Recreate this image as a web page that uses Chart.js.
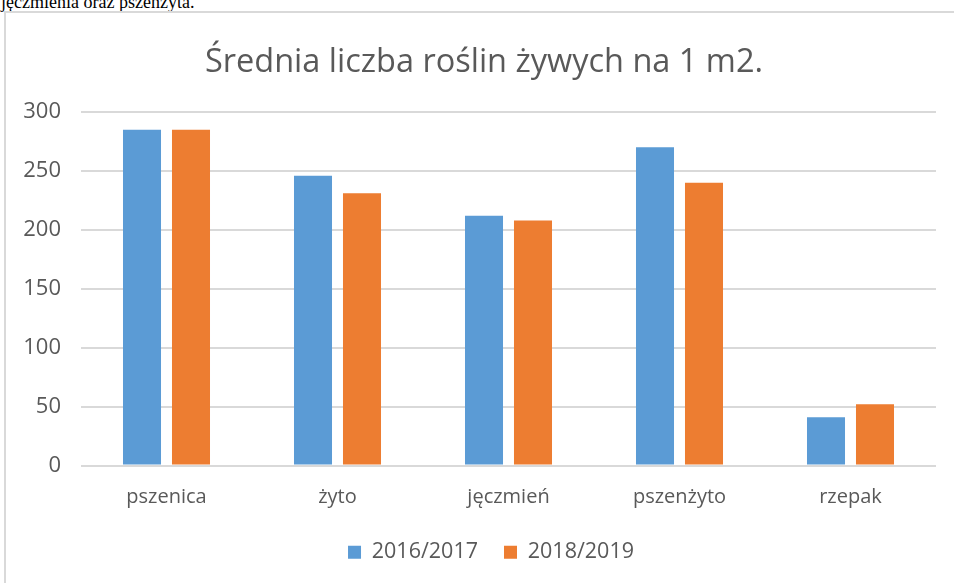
<!DOCTYPE html>
<html>
<head>
<meta charset="utf-8">
<script src="https://cdn.jsdelivr.net/npm/chart.js@4"></script>
<style>
  html, body { margin: 0; padding: 0; background: #fff; width: 954px; height: 583px; overflow: hidden; }
  #doc { position: absolute; left: 1px; top: -8px; font-family: "Liberation Serif", serif; font-size: 18px; color: #000; white-space: nowrap; }
  #frame { position: absolute; left: 4px; top: 11px; width: 950px; height: 572px; border-left: 2px solid #d9d9d9; border-top: 2px solid #d9d9d9; background: #fff; }
  #wrap { position: absolute; left: 0; top: 0; width: 948px; height: 570px; }
</style>
</head>
<body>
<div id="doc">jęczmienia oraz pszenżyta.</div>
<div id="frame"><div id="wrap"><canvas id="c"></canvas></div></div>
<script>
const categories = ["pszenica", "żyto", "jęczmień", "pszenżyto", "rzepak"];
const seriesNames = ["2016/2017", "2018/2019"];
const values2016 = [285, 246, 212, 270, 41];
const values2018 = [285, 231, 208, 240, 52];
const yTicks = [0, 50, 100, 150, 200, 250, 300];
const titleText = "Średnia liczba roślin żywych na 1 m2.";

const textColor = "#595959";
const fontFamily = "'Open Sans', 'Noto Sans', sans-serif";

// shift title and legend horizontally to match the reference's centring
const shiftBlocks = {
  id: "shiftBlocks",
  afterLayout(chart) {
    if (chart.titleBlock) { chart.titleBlock.left += 13; chart.titleBlock.right += 13; }
    if (chart.legend) { chart.legend.left += 20; chart.legend.right += 20; }
  }
};

new Chart(document.getElementById("c"), {
  type: "bar",
  data: {
    labels: categories,
    datasets: [
      { label: seriesNames[0], data: values2016, backgroundColor: "#5b9bd5", borderColor: "#5b9bd5", borderWidth: 0 },
      { label: seriesNames[1], data: values2018, backgroundColor: "#ed7d31", borderColor: "#ed7d31", borderWidth: 0 }
    ]
  },
  plugins: [shiftBlocks],
  options: {
    responsive: true,
    maintainAspectRatio: false,
    animation: false,
    datasets: { bar: { categoryPercentage: 0.573, barPercentage: 0.776 } },
    layout: { padding: { left: 0, right: 18, top: 30, bottom: 10 } },
    plugins: {
      title: {
        display: true,
        text: titleText,
        color: textColor,
        font: { family: fontFamily, size: 32.5, weight: "normal" },
        padding: { top: 0, bottom: 30 }
      },
      legend: {
        position: "bottom",
        labels: {
          color: textColor,
          font: { family: fontFamily, size: 21.5 },
          boxWidth: 13,
          boxHeight: 13,
          padding: 26
        }
      },
      tooltip: { enabled: false }
    },
    scales: {
      x: {
        grid: { display: false, drawTicks: false },
        border: { display: false },
        afterFit: (s) => { s.height = 50; },
        ticks: { color: textColor, font: { family: fontFamily, size: 20 }, padding: 20 }
      },
      y: {
        min: 0,
        max: 300,
        afterBuildTicks: (s) => { s.ticks = yTicks.map(v => ({ value: v })); },
        afterFit: (s) => { s.width = 75; },
        grid: { color: "#d9d9d9", lineWidth: 2, drawTicks: false },
        border: { display: false },
        ticks: { color: textColor, font: { family: fontFamily, size: 22 }, padding: 20 }
      }
    }
  }
});
</script>
</body>
</html>
